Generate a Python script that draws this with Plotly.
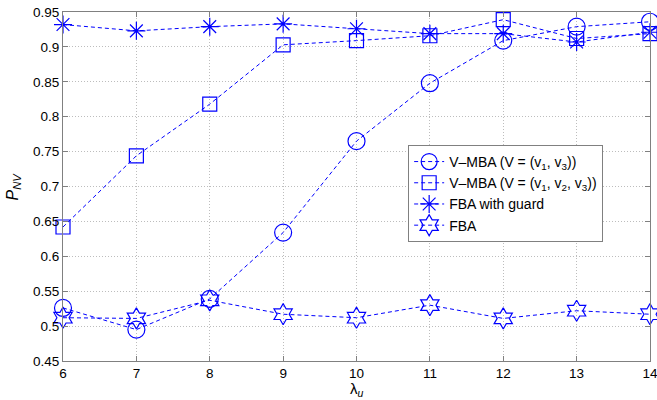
import plotly.graph_objects as go

lam = [6, 7, 8, 9, 10, 11, 12, 13, 14]
vmba_13 = [0.526, 0.495, 0.539, 0.634, 0.765, 0.848, 0.909, 0.929, 0.936]
vmba_123 = [0.642, 0.744, 0.818, 0.903, 0.909, 0.916, 0.939, 0.912, 0.919]
fba_guard = [0.932, 0.923, 0.929, 0.933, 0.926, 0.919, 0.919, 0.907, 0.921]
fba = [0.512, 0.511, 0.537, 0.517, 0.512, 0.530, 0.511, 0.522, 0.517]

yticks = [0.45, 0.5, 0.55, 0.6, 0.65, 0.7, 0.75, 0.8, 0.85, 0.9, 0.95]
ytick_text = ["0.45", "0.5", "0.55", "0.6", "0.65", "0.7", "0.75", "0.8", "0.85", "0.9", "0.95"]

blue = "#0000FF"
dash = "4px,3px"
FONT = "Liberation Sans, Arial, sans-serif"

series = [
    ("V–MBA (V = (v<sub>1</sub>, v<sub>3</sub>))", vmba_13, "circle-open", 17),
    ("V–MBA (V = (v<sub>1</sub>, v<sub>2</sub>, v<sub>3</sub>))", vmba_123, "square-open", 14),
    ("FBA with guard", fba_guard, "asterisk-open", 15),
    ("FBA", fba, "hexagram-open", 16),
]

fig = go.Figure()
for name, vals, sym, sz in series:
    fig.add_trace(go.Scatter(
        x=lam, y=vals, name=name, mode="lines+markers",
        line=dict(color=blue, width=1, dash=dash),
        marker=dict(symbol=sym, size=sz, color=blue, line=dict(color=blue, width=1.2)),
        cliponaxis=False,
    ))

axis_common = dict(
    showline=True, linecolor="#808080", linewidth=1, mirror="ticks",
    ticks="inside", ticklen=5, tickcolor="#808080",
    showgrid=True, gridcolor="#bdbdbd", griddash="1px,2px", gridwidth=1,
    zeroline=False, automargin=False, ticklabeloverflow="allow",
    tickfont=dict(family=FONT, size=13.5, color="black"),
)

fig.update_layout(
    width=657, height=400,
    margin=dict(l=63, r=7, t=12, b=39),
    paper_bgcolor="white", plot_bgcolor="white",
    font=dict(family=FONT, size=14, color="black"),
    xaxis=dict(range=[6, 14], tickvals=lam, ticktext=[str(v) for v in lam], **axis_common),
    yaxis=dict(range=[0.45, 0.95], tickvals=yticks, ticktext=ytick_text, **axis_common),
    legend=dict(x=0.588, y=0.619, xanchor="left", yanchor="top",
                bgcolor="white", bordercolor="#808080", borderwidth=1,
                font=dict(size=14), tracegroupgap=0, itemsizing="trace",
                itemwidth=30),
    showlegend=True,
    annotations=[
        dict(text="λ<sub><i>u</i></sub>", x=0.5, y=0, xref="paper", yref="paper",
             xanchor="center", yanchor="top", yshift=-17, showarrow=False,
             font=dict(family=FONT, size=15)),
        dict(text="<i>P</i><sub><i>NV</i></sub>", x=0, y=0.5, xref="paper", yref="paper",
             xanchor="center", yanchor="middle", xshift=-50, textangle=-90,
             showarrow=False, font=dict(family=FONT, size=16)),
    ],
)

fig.write_html(
    "out.html",
    config={"displayModeBar": False},
    post_script="document.body.style.margin='0';document.body.style.padding='0';"
                "document.documentElement.style.overflow='hidden';",
)
